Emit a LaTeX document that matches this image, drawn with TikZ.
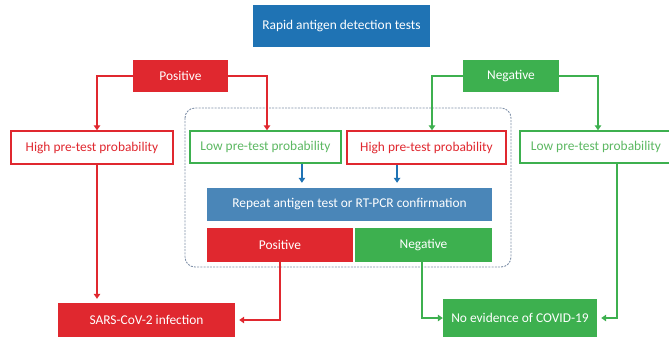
\documentclass[tikz,border=0pt]{standalone}
\usepackage{fontspec}
\setmainfont{Carlito}
\usetikzlibrary{arrows.meta,calc}
\definecolor{cblue}{HTML}{1F73B4}
\definecolor{cblue2}{HTML}{4A86B8}
\definecolor{cred}{HTML}{E0282F}
\definecolor{cgreen}{HTML}{3DB04F}
\definecolor{tgreen}{HTML}{5CB862}
\definecolor{cdash}{HTML}{7F90A8}
\begin{document}
\begin{tikzpicture}[x=1pt,y=-1pt,
  base/.style={inner sep=0pt,font=\fontsize{13.4}{16}\selectfont},
  fillbox/.style={base,text=white},
  redfill/.style={fillbox,fill=cred},
  greenfill/.style={fillbox,fill=cgreen},
  redline/.style={base,draw=cred,line width=1.4pt,fill=white,text=cred},
  greenline/.style={base,draw=cgreen,line width=1.4pt,fill=white,text=tgreen},
  tip/.style={-{Triangle[width=6.5pt,length=5pt]}},
  redarr/.style={tip,draw=cred,line width=1.3pt},
  greenarr/.style={tip,draw=cgreen,line width=1.3pt},
  bluearr/.style={tip,draw=cblue,line width=1.3pt}
]
\useasboundingbox (0,0) rectangle (669,338);
\clip (0,0) rectangle (669,338);

\draw[cdash,line width=0.9pt,dash pattern=on 2pt off 1.2pt,rounded corners=10pt] (185,108) rectangle (511,267);

\node[fillbox,fill=cblue,minimum width=177pt,minimum height=42pt] (top) at (341.5,26) {Rapid antigen detection tests};
\node[redfill,minimum width=95pt,minimum height=32pt] (pos) at (180.5,76) {Positive};
\node[greenfill,minimum width=96pt,minimum height=32pt] (neg) at (511,76) {Negative};

\node[redline,minimum width=162pt,minimum height=33pt] (hl) at (92,147.5) {High pre-test probability};
\node[greenline,minimum width=151pt,minimum height=32pt] (lm) at (265.5,147) {Low pre-test probability};
\node[redline,minimum width=159pt,minimum height=33pt] (hm) at (426.5,147.5) {High pre-test probability};
\node[greenline,minimum width=152pt,minimum height=32pt] (lr) at (596,147) {Low pre-test probability};

\node[fillbox,fill=cblue2,minimum width=285pt,minimum height=33pt] (rep) at (349.5,204.5) {Repeat antigen test or RT-PCR confirmation};
\node[redfill,minimum width=146pt,minimum height=34pt] (pb) at (280,245) {Positive};
\node[greenfill,minimum width=137pt,minimum height=34pt] (nb) at (423.5,245) {Negative};

\node[redfill,minimum width=177pt,minimum height=34pt] (sars) at (146.5,320) {SARS-CoV-2 infection};
\node[greenfill,minimum width=154pt,minimum height=38pt] (noev) at (520,318) {No evidence of COVID-19};

\coordinate (r1) at ($(rep.north west)!1/3!(rep.north east)$);
\coordinate (r2) at ($(rep.north west)!2/3!(rep.north east)$);

\draw[redarr] (pos.west) -| ([xshift=5pt]hl.north);
\draw[redarr] (pos.east) -| ([xshift=1.5pt]lm.north);
\draw[greenarr] (neg.west) -| ([xshift=5.5pt]hm.north);
\draw[greenarr] (neg.east) -| ([xshift=2pt]lr.north);

\draw[redarr,shorten >=4pt] ([xshift=5pt]hl.south) -- ([xshift=5pt]hl.south |- sars.north);
\draw[bluearr,shorten >=5pt] (lm.south -| r1) -- (r1);
\draw[bluearr,shorten >=5pt] (hm.south -| r2) -- (r2);

\draw[redarr,shorten >=4pt] (pb.south) |- (sars.east);
\draw[greenarr] ([xshift=-1.5pt]nb.south) |- (noev.west);
\draw[greenarr,shorten >=4pt] ([xshift=21pt]lr.south) |- (noev.east);
\end{tikzpicture}
\end{document}
